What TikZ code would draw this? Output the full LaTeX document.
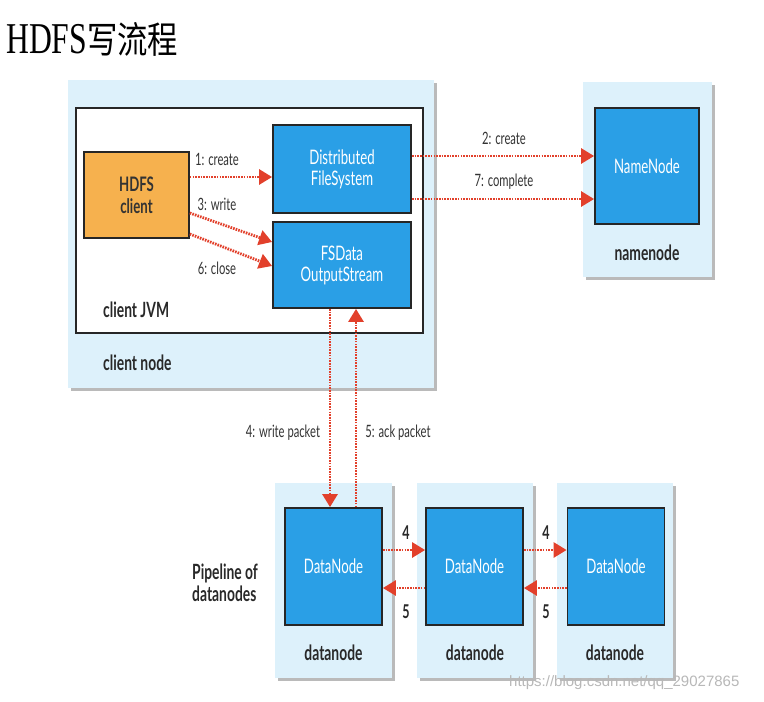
\documentclass[tikz,border=0pt]{standalone}
\usepackage{fontspec}
\setmainfont{Lato}[FakeStretch=0.66]
\newfontfamily\titlefont{Liberation Serif}[FakeStretch=0.72]
\newfontfamily\cjk{Noto Sans CJK SC}[FakeStretch=0.82]
\newfontfamily\wmfont{Liberation Sans}
\usetikzlibrary{arrows.meta,shadows}
\definecolor{lightbg}{HTML}{DDF1FB}
\definecolor{nodeblue}{HTML}{2A9FE6}
\definecolor{clientorange}{HTML}{F6B14E}
\definecolor{arrowred}{HTML}{E2402B}
\definecolor{txtgray}{HTML}{333333}
\tikzset{
  lightbox/.style={fill=lightbg, draw=none, inner sep=0pt,
    drop shadow={shadow xshift=3pt, shadow yshift=-3pt, fill=black!45, opacity=0.6}},
  bluebox/.style={fill=nodeblue, draw=black!85, line width=1.8pt, inner sep=0pt,
    text=white, align=center, font=\fontsize{20}{21}\selectfont},
  jvmbox/.style={fill=white, draw=black!85, line width=1.6pt, inner sep=0pt},
  orangebox/.style={fill=clientorange, draw=black!85, line width=1.6pt, inner sep=0pt,
    text=txtgray, align=center, font=\fontsize{20}{22}\selectfont\bfseries},
  flowarrow/.style={draw=arrowred, line width=2.8pt, dash pattern=on 1.6pt off 1.1pt,
    -{Triangle[length=13pt,width=15pt,fill=arrowred]}},
  lbl/.style={text=txtgray, font=\fontsize{17}{18}\selectfont, inner sep=0pt},
  boldlbl/.style={text=txtgray!80!black, font=\fontsize{21}{22}\selectfont\bfseries, inner sep=0pt},
  numlbl/.style={text=txtgray!80!black, font=\fontsize{19}{20}\selectfont\bfseries, inner sep=0pt},
}
\begin{document}
\begin{tikzpicture}[x=1pt, y=-1pt]
\useasboundingbox (0,0) rectangle (764,702);
\fill[white] (0,0) rectangle (764,702);
% title
\node[anchor=base west, inner sep=0pt, text=black] (title) at (6,53)
  {\titlefont\fontsize{44}{46}\selectfont HDFS\cjk\fontsize{37}{40}\selectfont 写流程};
% client node
\node[lightbox, minimum width=366pt, minimum height=308pt] (cn) at (251,234) {};
\node[jvmbox, minimum width=347pt, minimum height=225pt] (jvm) at (249.5,220.5) {};
\node[orangebox, minimum width=105pt, minimum height=86pt] (hc) at (136.5,195) {HDFS\\client};
\node[bluebox, minimum width=138pt, minimum height=88pt] (dfs) at (342,169) {Distributed\\FileSystem};
\node[bluebox, minimum width=138pt, minimum height=86pt] (fsd) at (342,265) {FSData\\OutputStream};
\node[boldlbl, anchor=west] (jvmlbl) at (103,310) {client JVM};
\node[boldlbl, anchor=west] (cnlbl) at (103,363) {client node};
% namenode
\node[lightbox, minimum width=129pt, minimum height=195pt] (nnbox) at (647.5,179.5) {};
\node[bluebox, minimum width=104pt, minimum height=116pt] (nn) at (647,166) {NameNode};
\node[boldlbl] (nnlbl) at (647,253) {namenode};
% datanodes
\node[lightbox, minimum width=117pt, minimum height=195pt] (dnb1) at (333.5,580.5) {};
\node[lightbox, minimum width=116pt, minimum height=195pt] (dnb2) at (475,580.5) {};
\node[lightbox, minimum width=116pt, minimum height=195pt] (dnb3) at (615,580.5) {};
\node[bluebox, minimum width=97pt, minimum height=117pt] (dn1) at (333.5,566.5) {DataNode};
\node[bluebox, minimum width=97pt, minimum height=117pt] (dn2) at (474.5,566.5) {DataNode};
\node[bluebox, minimum width=97pt, minimum height=117pt] (dn3) at (616,566.5) {DataNode};
\node[boldlbl] (dl1) at (333.5,653) {datanode};
\node[boldlbl] (dl2) at (475,653) {datanode};
\node[boldlbl] (dl3) at (615,653) {datanode};
\node[boldlbl, anchor=west, align=left] (pipe) at (192,583) {Pipeline of\\datanodes};
% arrows inside client JVM
\draw[flowarrow] ([yshift=18pt]hc.east) -- ([yshift=-8pt]dfs.west);
\draw[flowarrow] ([yshift=-18pt]hc.east) -- ([yshift=23pt]fsd.west);
\draw[flowarrow] ([yshift=-39pt]hc.east) -- ([yshift=-1pt]fsd.west);
\node[lbl] (l1) at (217,159) {1: create};
\node[lbl] (l3) at (217,204) {3: write};
\node[lbl] (l6) at (217,268) {6: close};
% to namenode
\draw[flowarrow] ([yshift=13pt]dfs.east) -- ([yshift=10pt]nn.west);
\draw[flowarrow] ([yshift=-30pt]dfs.east) -- ([yshift=-33pt]nn.west);
\node[lbl] (l2) at (504,138) {2: create};
\node[lbl] (l7) at (504,182) {7: complete};
% write / ack packet
\draw[flowarrow] ([xshift=-12pt]fsd.south) -- ([xshift=-3.5pt]dn1.north);
\draw[flowarrow] ([xshift=22.5pt]dn1.north) -- ([xshift=14pt]fsd.south);
\node[lbl] (l4) at (283,433) {4: write packet};
\node[lbl] (l5) at (398,433) {5: ack packet};
% pipeline arrows
\draw[flowarrow] ([yshift=16.5pt]dn1.east) -- ([yshift=16.5pt]dn2.west);
\draw[flowarrow] ([yshift=-21.5pt]dn2.west) -- ([yshift=-21.5pt]dn1.east);
\draw[flowarrow] ([yshift=16.5pt]dn2.east) -- ([yshift=16.5pt]dn3.west);
\draw[flowarrow] ([yshift=-21.5pt]dn3.west) -- ([yshift=-21.5pt]dn2.east);
\node[numlbl] (n4a) at (406,533) {4};
\node[numlbl] (n5a) at (406,612) {5};
\node[numlbl] (n4b) at (546,533) {4};
\node[numlbl] (n5b) at (546,612) {5};
% watermark
\node[anchor=west, inner sep=0pt, text=black!28, font=\wmfont\fontsize{15}{16}\selectfont] (wm) at (509,683) {https://blog.csdn.net/qq\_29027865};
\end{tikzpicture}
\end{document}
